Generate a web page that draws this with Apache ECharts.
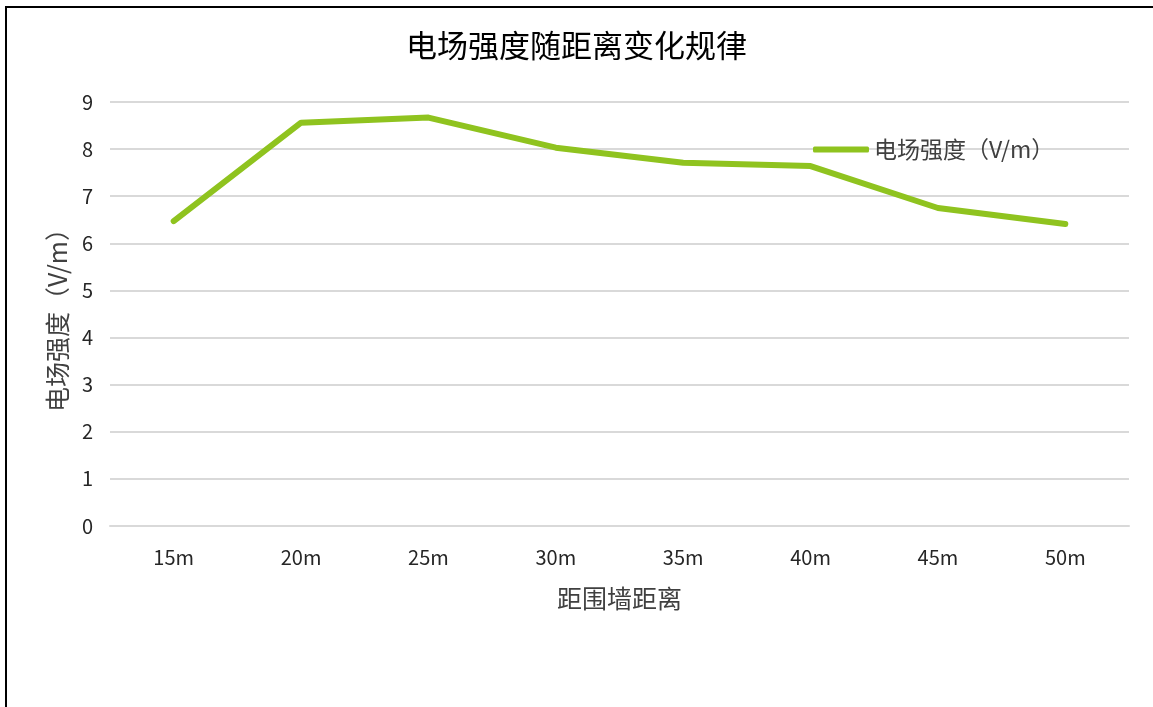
<!DOCTYPE html>
<html>
<head>
<meta charset="utf-8">
<style>
    html, body { margin: 0; padding: 0; background: #fff; overflow: hidden; }
    .frame {
        position: absolute;
        left: 5px;
        top: 6px;
        width: 1200px;
        height: 760px;
        border: 2px solid #000;
        box-sizing: border-box;
    }
    #chart { position: absolute; left: 0; top: 0; width: 1153px; height: 707px; }
</style>
<script src="https://cdn.jsdelivr.net/npm/echarts@6/dist/echarts.min.js"></script>
</head>
<body>
<div class="frame"></div>
<div id="chart"></div>
<script>
const categories = ['15m', '20m', '25m', '30m', '35m', '40m', '45m', '50m'];
const fieldStrength = [6.47, 8.56, 8.67, 8.03, 7.71, 7.64, 6.75, 6.41];
const seriesName = '电场强度（V/m）';

let font = '"Noto Sans CJK SC", "Noto Sans", sans-serif';
let myChart = echarts.init(document.getElementById('chart'));

myChart.setOption({
    animation: false,
    title: {
        text: '电场强度随距离变化规律',
        left: 'center',
        top: 25,
        textStyle: {
            fontFamily: font,
            fontSize: 31,
            fontWeight: 'normal',
            color: '#000'
        }
    },
    legend: {
        left: 808,
        top: 133,
        itemWidth: 56,
        itemHeight: 6,
        itemGap: 10,
        textStyle: {
            fontFamily: font,
            fontSize: 23,
            color: '#404040'
        },
        data: [{ name: seriesName, icon: 'roundRect' }]
    },
    grid: {
        left: 110,
        right: 24,
        top: 102,
        bottom: 181
    },
    xAxis: {
        type: 'category',
        data: categories,
        name: '距围墙距离',
        nameLocation: 'middle',
        nameGap: 60,
        nameTextStyle: {
            fontFamily: font,
            fontSize: 25,
            color: '#404040'
        },
        axisLine: { lineStyle: { color: '#d9d9d9', width: 2 } },
        axisTick: { show: false },
        axisLabel: {
            margin: 21,
            fontFamily: font,
            fontSize: 20,
            color: '#262626'
        }
    },
    yAxis: {
        type: 'value',
        min: 0,
        max: 9,
        interval: 1,
        name: '电场强度（V/m）',
        nameLocation: 'middle',
        nameGap: 40,
        nameRotate: 90,
        nameTextStyle: {
            fontFamily: font,
            fontSize: 25,
            color: '#404040'
        },
        axisLine: { show: false },
        axisTick: { show: false },
        axisLabel: {
            margin: 17,
            fontFamily: font,
            fontSize: 20,
            color: '#262626'
        },
        splitLine: {
            lineStyle: { color: '#d9d9d9', width: 2 }
        }
    },
    series: [
        {
            name: seriesName,
            type: 'line',
            data: fieldStrength,
            symbol: 'none',
            lineStyle: { color: '#8fc31f', width: 6, cap: 'round', join: 'round' },
            itemStyle: { color: '#8fc31f' }
        }
    ]
});
</script>
</body>
</html>
